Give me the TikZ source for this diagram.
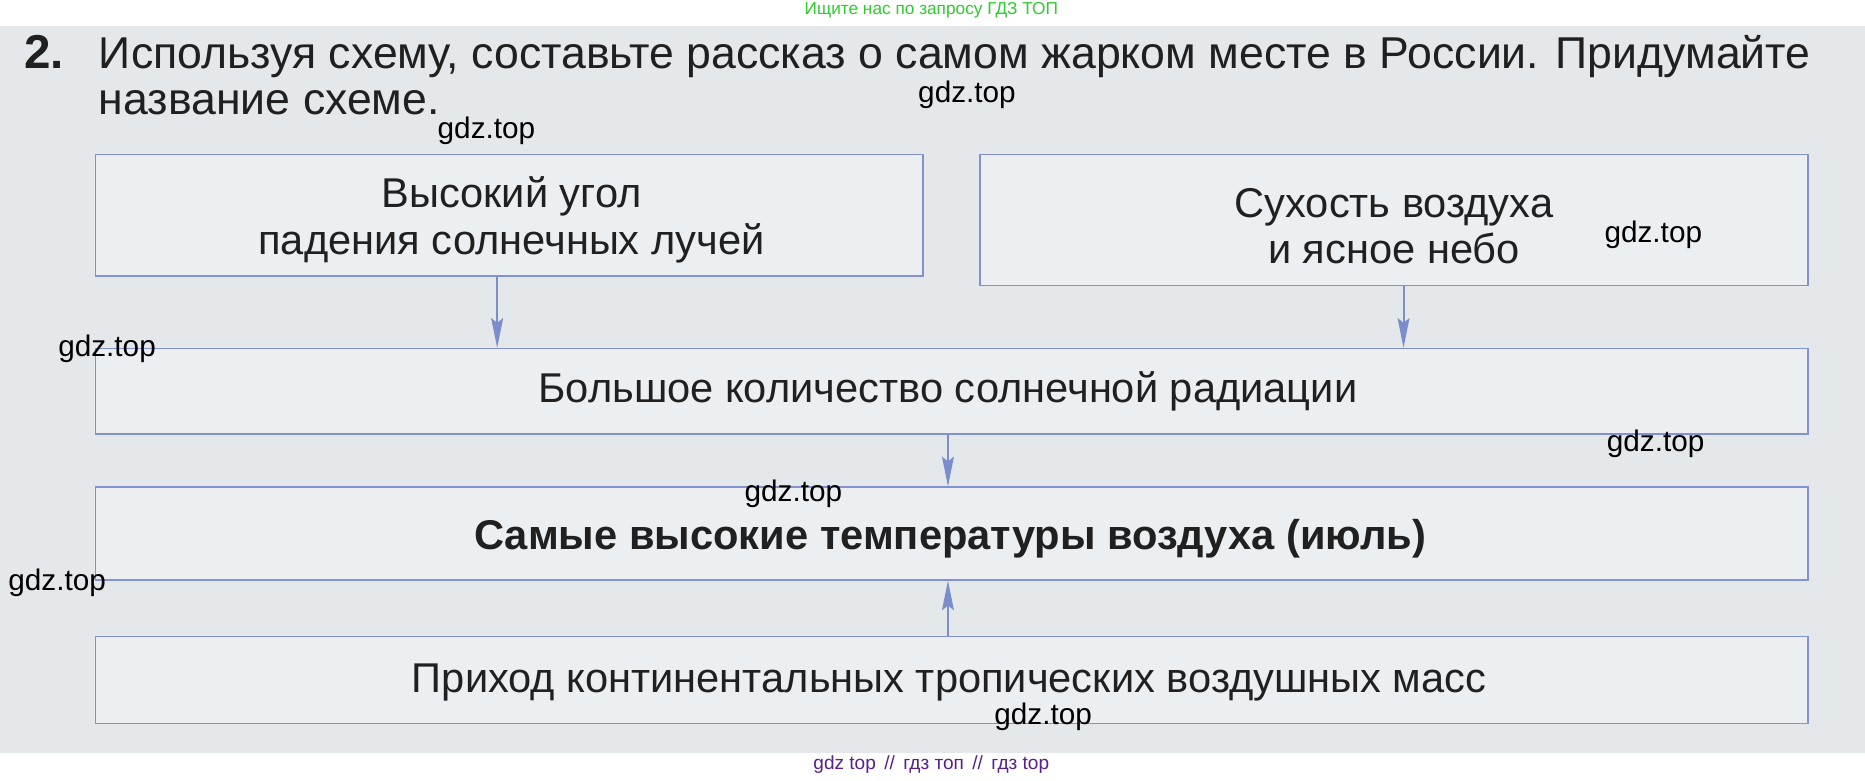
\documentclass[tikz,border=0pt]{standalone}
\usepackage{fontspec}
\setmainfont{Liberation Sans}
\usetikzlibrary{arrows.meta}
\definecolor{pagegrey}{HTML}{E4E8EA}
\definecolor{boxfill}{HTML}{ECEFF1}
\definecolor{boxline}{HTML}{8391CF}
\definecolor{arrowblue}{HTML}{7C8DCB}
\definecolor{inkdark}{HTML}{202020}
\definecolor{headgreen}{HTML}{2ECC2E}
\definecolor{footviolet}{HTML}{5A1F8C}
\begin{document}
\begin{tikzpicture}[x=1pt,y=-1pt,
  every node/.style={inner sep=0pt,text=inkdark},
  block/.style={draw=boxline,fill=boxfill,line width=1.1pt},
  blocktext/.style={align=center,font=\fontsize{35}{39}\selectfont},
  link/.style={draw=arrowblue,line width=1.7pt,
    -{Stealth[length=25pt,width=10pt,inset=4pt]}},
  wmark/.style={font=\fontsize{25}{25}\selectfont,text=black},
  task/.style={anchor=base west,font=\fontsize{37.5}{37.5}\selectfont}]
  \useasboundingbox (0,0) rectangle (1568,656);
  \fill[white] (0,0) rectangle (1568,656);
  \fill[pagegrey] (0,22) rectangle (1568,633);
  % task text
  \node[task,font=\fontsize{40}{40}\selectfont\bfseries] (num) at (20,58) {2.};
  \node[task] (taska) at (83,58) {Используя схему, составьте рассказ о самом жарком месте в России. Придумайте};
  \node[task] (taskb) at (83,96) {название схеме.};
  % boxes
  \node[block,minimum width=696pt,minimum height=102pt] (angle) at (428,181) {};
  \node[block,minimum width=696pt,minimum height=110pt] (dryair) at (1172,185) {};
  \node[block,minimum width=1440pt,minimum height=72pt] (radiation) at (800,329) {};
  \node[block,minimum width=1440pt,minimum height=78pt] (heat) at (800,448.5) {};
  \node[block,minimum width=1440pt,minimum height=73pt] (masses) at (800,571.5) {};
  \node[blocktext] (angletxt) at (430,185) {Высокий угол\\падения солнечных лучей};
  \node[blocktext] (dryairtxt) at (1172,190) {Сухость воздуха\\и ясное небо};
  \node[blocktext] (radiationtxt) at (797,329) {Большое количество солнечной радиации};
  \node[blocktext,font=\fontsize{35}{39}\selectfont\bfseries] (heattxt) at (799,453) {Самые высокие температуры воздуха (июль)};
  \node[blocktext] (massestxt) at (798,574) {Приход континентальных тропических воздушных масс};
  % arrows
  \draw[link] ([xshift=-10pt]angle.south) -- ([xshift=-10pt]angle.south |- radiation.north);
  \draw[link] ([xshift=8pt]dryair.south) -- ([xshift=8pt]dryair.south |- radiation.north);
  \draw[link] ([xshift=-3pt]radiation.south) -- ([xshift=-3pt]radiation.south |- heat.north);
  \draw[link] ([xshift=-3pt]masses.north) -- ([xshift=-3pt]masses.north |- heat.south);
  % site marks
  \node[font=\fontsize{14.5}{15}\selectfont,text=headgreen] (ad) at (783,9) {Ищите нас по запросу ГДЗ ТОП};
  \node[font=\fontsize{16}{16}\selectfont,text=footviolet] (foot) at (783,643) {gdz top \,//\, гдз топ \,//\, гдз top};
  \foreach \p [count=\i] in {(813,80),(409,110),(1390,197),(90,293),(1392,373),(667,415),(48,490),(877,603)}
    \node[wmark] (wm\i) at \p {gdz.top};
\end{tikzpicture}
\end{document}
